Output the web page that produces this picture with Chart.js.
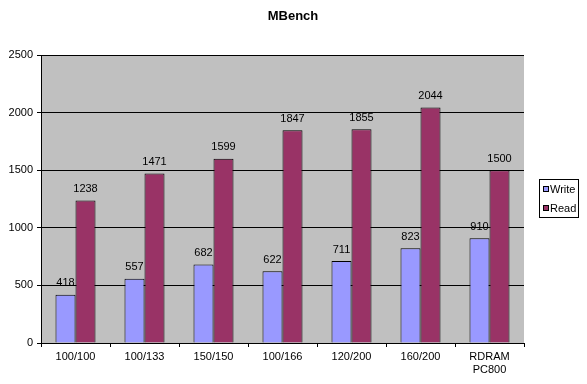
<!DOCTYPE html>
<html>
<head>
<meta charset="utf-8">
<script src="https://cdn.jsdelivr.net/npm/chart.js@4"></script>
<style>
  html, body { margin: 0; padding: 0; background: #fff; }
  #wrap { width: 587px; height: 384px; }
</style>
</head>
<body>
<div id="wrap"><canvas id="mbench" width="587" height="384"></canvas></div>
<script>
const categories = ['100/100', '100/133', '150/150', '100/166', '120/200', '160/200', ['RDRAM', 'PC800']];
const writeValues = [418, 557, 682, 622, 711, 823, 910];
const readValues = [1238, 1471, 1599, 1847, 1855, 2044, 1500];
const yTicks = [0, 500, 1000, 1500, 2000, 2500];

const FONT = 'Arial, "Liberation Sans", sans-serif';

// gray plot area like old Excel charts
const plotBg = {
  id: 'plotBg',
  beforeDraw(chart) {
    const { ctx, chartArea: a } = chart;
    ctx.save();
    ctx.fillStyle = '#c0c0c0';
    ctx.fillRect(a.left, a.top, a.right - a.left, a.bottom - a.top);
    ctx.restore();
  }
};

// value labels over the bars + title + boxed legend
const extras = {
  id: 'extras',
  afterDraw(chart) {
    const ctx = chart.ctx;
    ctx.save();
    ctx.font = '11px ' + FONT;
    ctx.fillStyle = '#000';
    ctx.textAlign = 'center';
    ctx.textBaseline = 'bottom';
    chart.data.datasets.forEach((ds, i) => {
      chart.getDatasetMeta(i).data.forEach((bar, j) => {
        ctx.fillText(ds.data[j], bar.x, bar.y - 6);
      });
    });

    ctx.font = 'bold 13px ' + FONT;
    ctx.textBaseline = 'middle';
    ctx.fillText('MBench', 293, 16);

    // legend
    ctx.strokeStyle = '#000';
    ctx.lineWidth = 1;
    ctx.strokeRect(539.5, 179.5, 39, 38);
    ctx.font = '11px ' + FONT;
    ctx.textAlign = 'left';
    chart.data.datasets.forEach((ds, i) => {
      const y = 189 + i * 19;
      ctx.fillStyle = ds.backgroundColor;
      ctx.fillRect(543.5, y - 2.5, 5, 5);
      ctx.strokeRect(543.5, y - 2.5, 5, 5);
      ctx.fillStyle = '#000';
      ctx.fillText(ds.label, 550, y + 0.5);
    });
    ctx.restore();
  }
};

new Chart(document.getElementById('mbench'), {
  type: 'bar',
  data: {
    labels: categories,
    datasets: [
      { label: 'Write', data: writeValues, backgroundColor: '#9999ff', borderColor: '#000', borderWidth: 1 },
      { label: 'Read', data: readValues, backgroundColor: '#993366', borderColor: '#000', borderWidth: 1 }
    ]
  },
  options: {
    responsive: false,
    animation: false,
    devicePixelRatio: 1,
    layout: { padding: { top: 55, right: 63, left: 0, bottom: 0 } },
    datasets: { bar: { categoryPercentage: 0.58, barPercentage: 1.0 } },
    plugins: {
      legend: { display: false },
      title: { display: false },
      tooltip: { enabled: false }
    },
    scales: {
      x: {
        grid: { display: true, drawOnChartArea: false, color: '#000', tickLength: 4, offset: true },
        border: { color: '#000' },
        ticks: { color: '#000', font: { family: FONT, size: 11 }, padding: 3, maxRotation: 0 },
        afterFit(scale) { scale.height = 41; }
      },
      y: {
        min: 0,
        max: 2500,
        afterBuildTicks(scale) { scale.ticks = yTicks.map(v => ({ value: v })); },
        grid: { color: '#000', tickLength: 4 },
        border: { color: '#000' },
        ticks: { color: '#000', font: { family: FONT, size: 11 }, padding: 4, callback: v => String(v) },
        afterFit(scale) { scale.width = 41; }
      }
    }
  },
  plugins: [plotBg, extras]
});
</script>
</body>
</html>
